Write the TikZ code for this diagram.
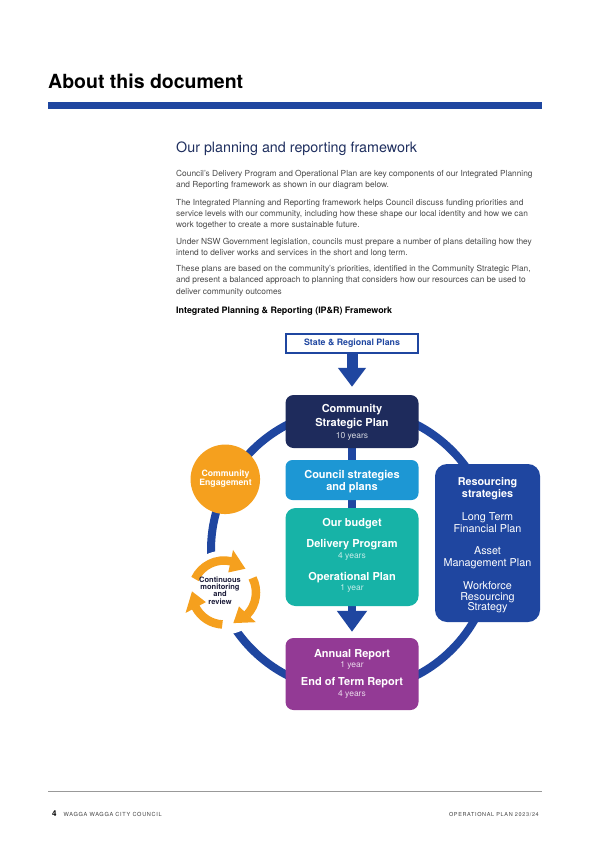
\documentclass[tikz,border=0pt]{standalone}
\usepackage{fontspec}
\setmainfont{TeX Gyre Heros}
\newfontfamily\footfont[LetterSpace=12]{TeX Gyre Heros}
\usetikzlibrary{arrows.meta,backgrounds,calc}
\definecolor{ipnavy}{HTML}{1E2B5C}
\definecolor{ipblue}{HTML}{1F46A0}
\definecolor{iplight}{HTML}{1D97D4}
\definecolor{ipteal}{HTML}{17B3A7}
\definecolor{ippurple}{HTML}{933A95}
\definecolor{iporange}{HTML}{F5A01E}
\definecolor{ipbody}{HTML}{4A4A4A}
\definecolor{iphead}{HTML}{1F2F5F}
\definecolor{ipfoot}{HTML}{444444}
\definecolor{ipmon}{HTML}{1D1D3A}
\begin{document}
\begin{tikzpicture}[x=1pt,y=-1pt,
  txt/.style={anchor=base, inner sep=0},
  txtw/.style={anchor=base west, inner sep=0},
  body/.style={txtw, text=ipbody, font=\fontsize{8.35}{9}\selectfont},
  boxshape/.style={rectangle, rounded corners=8pt, inner sep=0, minimum width=133pt},
  wb/.style={txt, text=white, font=\fontsize{11}{11}\selectfont\bfseries},
  wr/.style={txt, text=white, font=\fontsize{10.8}{11}\selectfont},
  yrs/.style={txt, font=\fontsize{8.5}{9}\selectfont},
  monarc/.style={iporange, line width=8.5pt},
]
\useasboundingbox (0,0) rectangle (599,848);

% header
\node[txtw, font=\fontsize{19.5}{20}\selectfont\bfseries, text=black] (title) at (48,89) {About this document};
\fill[ipblue] (48,102.5) rectangle (542,109.3);
\node[txtw, font=\fontsize{14.3}{15}\selectfont, text=iphead] (head) at (176,153) {Our planning and reporting framework};

% body text
\foreach \yy/\tt [count=\i] in {
 176.5/{Council's Delivery Program and Operational Plan are key components of our Integrated Planning},
 187.8/{and Reporting framework as shown in our diagram below.},
 205/{The Integrated Planning and Reporting framework helps Council discuss funding priorities and},
 216.3/{service levels with our community, including how these shape our local identity and how we can},
 227.6/{work together to create a more sustainable future.},
 244/{Under NSW Government legislation, councils must prepare a number of plans detailing how they},
 255.3/{intend to deliver works and services in the short and long term.},
 271.5/{These plans are based on the community's priorities, identified in the Community Strategic Plan,},
 282.8/{and present a balanced approach to planning that considers how our resources can be used to},
 294.1/{deliver community outcomes}}
 \node[body] (b\i) at (176,\yy) {\tt};
\node[txtw, font=\fontsize{8.9}{9}\selectfont\bfseries, text=black] (fwtitle) at (176,313) {Integrated Planning \& Reporting (IP\&R) Framework};

% boxes
\node[draw=ipblue, line width=2pt, fill=white, minimum width=132pt, minimum height=19pt, inner sep=0,
      text=ipblue, font=\fontsize{8.8}{9}\selectfont\bfseries] (srp) at (352,343.5) {State \& Regional Plans};
\node[boxshape, fill=ipnavy, minimum height=53pt] (csp) at (352,421.5) {};
\node[boxshape, fill=iplight, minimum height=40pt, rounded corners=7pt] (cs) at (352,480) {};
\node[boxshape, fill=ipteal, minimum height=98pt, rounded corners=10pt] (bud) at (352,557) {};
\node[boxshape, fill=ippurple, minimum height=72pt] (ar) at (352,674) {};
\node[boxshape, fill=ipblue, minimum width=105pt, minimum height=158pt, rounded corners=12pt] (res) at (487.5,543) {};
\node[circle, fill=iporange, minimum size=69.5pt, inner sep=0] (ce) at (225.3,479.3) {};

% box texts
\node[wb] (csp1) at (352,412.3) {Community};
\node[wb] (csp2) at (352,426) {Strategic Plan};
\node[yrs, text=ipnavy!18!white] (csp3) at (352,438.5) {10 years};

\node[wb] (cs1) at (352,478) {Council strategies};
\node[wb] (cs2) at (352,490.7) {and plans};

\node[wb] (bud1) at (352,526.7) {Our budget};
\node[wb] (bud2) at (352,547.7) {Delivery Program};
\node[yrs, text=ipteal!25!white] (bud3) at (352,558.5) {4 years};
\node[wb] (bud4) at (352,580.3) {Operational Plan};
\node[yrs, text=ipteal!25!white] (bud5) at (352,590.5) {1 year};

\node[wb] (ar1) at (352,657) {Annual Report};
\node[yrs, text=ippurple!20!white] (ar2) at (352,667.5) {1 year};
\node[wb] (ar3) at (352,685.3) {End of Term Report};
\node[yrs, text=ippurple!20!white] (ar4) at (352,696.7) {4 years};

\node[wb, font=\fontsize{10.8}{11}\selectfont\bfseries] (res1) at (487.5,485.7) {Resourcing};
\node[wb, font=\fontsize{10.8}{11}\selectfont\bfseries] (res2) at (487.5,497) {strategies};
\node[wr] (res3) at (487.5,520) {Long Term};
\node[wr] (res4) at (487.5,532.7) {Financial Plan};
\node[wr] (res5) at (487.5,554.3) {Asset};
\node[wr] (res6) at (487.5,566) {Management Plan};
\node[wr] (res7) at (487.5,589.3) {Workforce};
\node[wr] (res8) at (487.5,600) {Resourcing};
\node[wr] (res9) at (487.5,610.7) {Strategy};

\node[txt, text=white, font=\fontsize{8.7}{9}\selectfont\bfseries] (ce1) at (225.5,476.7) {Community};
\node[txt, text=white, font=\fontsize{8.7}{9}\selectfont\bfseries] (ce2) at (225.5,485.7) {Engagement};

% continuous monitoring arrows
\coordinate (mc) at (224,592.5);
\node[circle, fill=white, minimum size=84pt, inner sep=0] (mdisk) at (mc) {};
\foreach \st/\ba/\ti [count=\k] in {205/282/312, 333/403/433, 93/152/182} {
  \draw[monarc] (mc) ++(\st:32) arc[start angle=\st, end angle=\ba+1, radius=32];
  \fill[iporange] ($(mc)+(\ti:32)$) -- ($(mc)+(\ba:20.5)$) -- ($(mc)+(\ba:43.5)$) -- cycle;
}
\foreach \yy/\tt [count=\i] in {582.3/Continuous, 589.6/monitoring, 596.9/and, 604.2/review}
  \node[txt, text=ipmon, font=\fontsize{7.5}{8}\selectfont\bfseries] (mon\i) at (220,\yy) {\tt};

% connectors
\draw[ipblue, line width=11pt, shorten >=8pt, -{Triangle[width=27pt,length=19pt]}] (srp.south) -- (csp.north);

\begin{pgfonlayer}{background}
  \fill[white] (0,0) rectangle (599,848);
  \coordinate (ringc) at (352,550);
  \draw[ipblue, line width=8pt] (ringc) circle[radius=141];
  \draw[ipblue, line width=8pt, shorten >=6pt, -{Triangle[width=29pt,length=21pt]}] (csp.south) -- (ar.north);
\end{pgfonlayer}

% footer
\draw[gray!80, line width=0.8pt] (48,791) -- (542,791);
\node[txtw, font=\fontsize{8}{9}\selectfont\bfseries, text=black] (pg) at (52,816.5) {4};
\node[txtw, font=\footfont\fontsize{5.6}{6}\selectfont, text=ipfoot] (fl) at (63.5,816.5) {WAGGA WAGGA CITY COUNCIL};
\node[anchor=base east, inner sep=0, font=\footfont\fontsize{5.5}{6}\selectfont, text=ipfoot] (fr) at (539,816.5) {OPERATIONAL PLAN 2023/24};
\end{tikzpicture}
\end{document}
